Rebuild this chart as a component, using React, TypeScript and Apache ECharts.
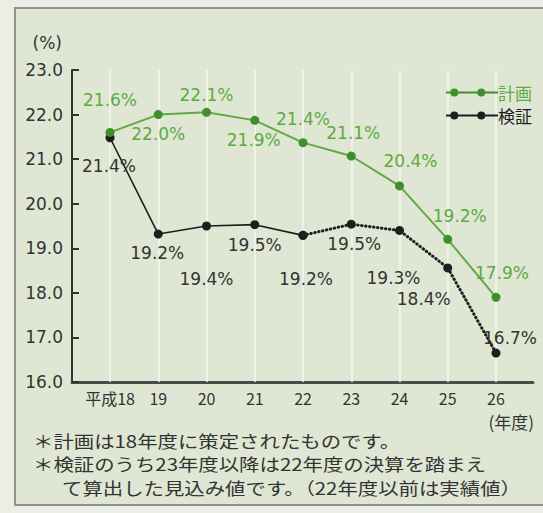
import React, { useEffect, useRef } from 'react';
import * as echarts from 'echarts';

// ---- data ----
const categories = ['平成18', '19', '20', '21', '22', '23', '24', '25', '26'];
const categoryIndex = [0, 1, 2, 3, 4, 5, 6, 7, 8];
// 計画 (plan) – plotted values and printed labels
const planValues = [21.6, 22.0, 22.05, 21.87, 21.37, 21.07, 20.4, 19.2, 17.9];
const planLabels = ['21.6%', '22.0%', '22.1%', '21.9%', '21.4%', '21.1%', '20.4%', '19.2%', '17.9%'];
// 検証 (verification) – plotted values and printed labels
const verifyValues = [21.48, 19.32, 19.5, 19.53, 19.29, 19.54, 19.4, 18.56, 16.65];
const verifyLabels = ['21.4%', '19.2%', '19.4%', '19.5%', '19.2%', '19.5%', '19.3%', '18.4%', '16.7%'];
const lastActualIndex = 4; // up to 22年度 actual, afterwards estimate (dotted)
const yMin = 16;
const yMax = 23;
const yInterval = 1;
const xAxisName = '(年度)';
const notes = [
  '＊計画は18年度に策定されたものです。',
  '＊検証のうち23年度以降は22年度の決算を踏まえ',
  'て算出した見込み値です。（22年度以前は実績値）',
];

// ---- layout (label offsets from point centre) ----
const planLabelOffsets = [[0, -32], [0, 19], [0, -17], [-1, 20], [0, -24], [2, -23], [11, -25], [12, -23], [6, -24]];
const verifyLabelOffsets = [[-1, 28], [-1, 19], [0, 53], [0, 20], [3, 44], [3, 20], [-6, 48], [-24, 31], [-13, -15]];

const GREEN_LINE = '#62a845';
const GREEN_DOT = '#3f8f2d';
const GREEN_TEXT = '#5bab3f';
const DARK = '#1e1e1e';
const TEXT = '#333333';

const legendIcon =
  'path://M0,4 L52,4 L52,6 L0,6 Z M4.3,5 A4,4 0 1,1 12.3,5 A4,4 0 1,1 4.3,5 Z M31.3,5 A4,4 0 1,1 39.3,5 A4,4 0 1,1 31.3,5 Z';

export default function App() {
  const ref = useRef<HTMLDivElement>(null);

  useEffect(() => {
    if (!ref.current) return;
    const chart = echarts.init(ref.current, undefined, { renderer: 'svg' });

    const labelBase = { show: true, position: 'inside', fontSize: 17, fontFamily: 'DejaVu Sans' };

    const planData = categoryIndex.map((i) => ({
      value: [i, planValues[i]],
      label: { offset: planLabelOffsets[i], formatter: planLabels[i] },
    }));
    const verifyItem = (i: number, showLabel: boolean) => ({
      value: [i, verifyValues[i]],
      label: {
        show: showLabel,
        offset: verifyLabelOffsets[i],
        formatter: verifyLabels[i],
        align: i === categoryIndex.length - 1 ? 'left' : 'center',
      },
    });
    const verifySolid = categoryIndex.filter((i) => i <= lastActualIndex).map((i) => verifyItem(i, true));
    const verifyDotted = categoryIndex.filter((i) => i >= lastActualIndex).map((i) => verifyItem(i, i !== lastActualIndex));

    const option: any = {
      animation: false,
      backgroundColor: 'transparent',
      grid: { left: 72, right: 10, top: 70, bottom: 131, containLabel: false },
      xAxis: {
        type: 'value',
        min: -0.788,
        max: 8.767,
        axisLine: { show: true, onZero: false, lineStyle: { color: '#4a4a48', width: 3 } },
        axisTick: { show: false },
        splitLine: { show: false },
        axisLabel: {
          customValues: categoryIndex,
          formatter: (v: number) => categories[Math.round(v)],
          fontSize: 16,
          lineHeight: 16,
          fontFamily: '"Noto Sans CJK JP"',
          color: TEXT,
          margin: 8,
        },
      },
      yAxis: {
        type: 'value',
        min: yMin,
        max: yMax,
        interval: yInterval,
        axisLine: { show: true, onZero: false, lineStyle: { color: '#333', width: 2 } },
        axisTick: { show: true, inside: true, length: 7, lineStyle: { color: '#333', width: 2 } },
        splitLine: { show: false },
        axisLabel: {
          formatter: (v: number) => v.toFixed(1),
          fontSize: 17,
          fontFamily: 'DejaVu Sans',
          color: TEXT,
          margin: 9,
        },
        name: '(%)',
        nameLocation: 'end',
        nameGap: 27,
        nameTextStyle: {
          fontSize: 17,
          fontFamily: 'DejaVu Sans',
          color: TEXT,
          align: 'right',
          verticalAlign: 'middle',
          padding: [0, 10, 0, 0],
        },
      },
      legend: {
        orient: 'vertical',
        left: 441,
        top: 79,
        itemWidth: 52,
        itemHeight: 10,
        itemGap: 6,
        textStyle: { fontSize: 17, fontFamily: '"Noto Sans CJK JP"', padding: [0, 0, 0, -5] },
        data: [
          { name: '計画', icon: legendIcon, itemStyle: { color: GREEN_DOT }, textStyle: { color: GREEN_TEXT } },
          { name: '検証', icon: legendIcon, itemStyle: { color: DARK }, textStyle: { color: DARK } },
        ],
      },
      graphic: [
        {
          type: 'rect',
          z: -10,
          silent: true,
          shape: { x: 15, y: 8, width: 540, height: 497 },
          style: { fill: '#dfe7d4', stroke: '#8e9588', lineWidth: 2 },
        },
        {
          type: 'text',
          x: 534,
          y: 421,
          silent: true,
          style: {
            text: xAxisName,
            font: '17px "Noto Sans CJK JP"',
            lineHeight: 16,
            fill: TEXT,
            verticalAlign: 'middle',
            align: 'right',
          },
        },
        ...notes.map((t, i) => ({
          type: 'text',
          x: i === 2 ? 62 : 33,
          y: [440, 463, 487][i],
          scaleX: 1.2,
          silent: true,
          style: {
            text: t,
            font: '17px "Noto Sans CJK JP"',
            lineHeight: 18,
            fill: TEXT,
            verticalAlign: 'middle',
            align: 'left',
          },
        })),
      ],
      series: [
        {
          name: '計画',
          type: 'line',
          z: 4,
          data: planData,
          symbol: 'circle',
          symbolSize: 9,
          lineStyle: { color: GREEN_LINE, width: 2 },
          itemStyle: { color: GREEN_DOT },
          label: { ...labelBase, color: GREEN_TEXT },
          markLine: {
            z: 1,
            silent: true,
            symbol: 'none',
            animation: false,
            label: { show: false },
            lineStyle: { color: '#f3f6ee', width: 1.5, type: 'solid' },
            data: categoryIndex.map((i) => ({ xAxis: i })),
          },
        },
        {
          name: '検証',
          type: 'line',
          z: 3,
          data: verifySolid,
          symbol: 'circle',
          symbolSize: 9,
          lineStyle: { color: DARK, width: 1.6 },
          itemStyle: { color: DARK },
          label: { ...labelBase, color: TEXT },
        },
        {
          name: '検証',
          type: 'line',
          z: 3,
          data: verifyDotted,
          symbol: 'circle',
          symbolSize: 9,
          lineStyle: { color: DARK, width: 3, type: [0.5, 3.5], cap: 'round' },
          itemStyle: { color: DARK },
          label: { ...labelBase, color: TEXT },
        },
      ],
    };

    chart.setOption(option);
    return () => chart.dispose();
  }, []);

  return (
    <div
      ref={ref}
      style={{ position: 'fixed', left: 0, top: 0, width: 543, height: 513, background: '#eceee6' }}
    />
  );
}
